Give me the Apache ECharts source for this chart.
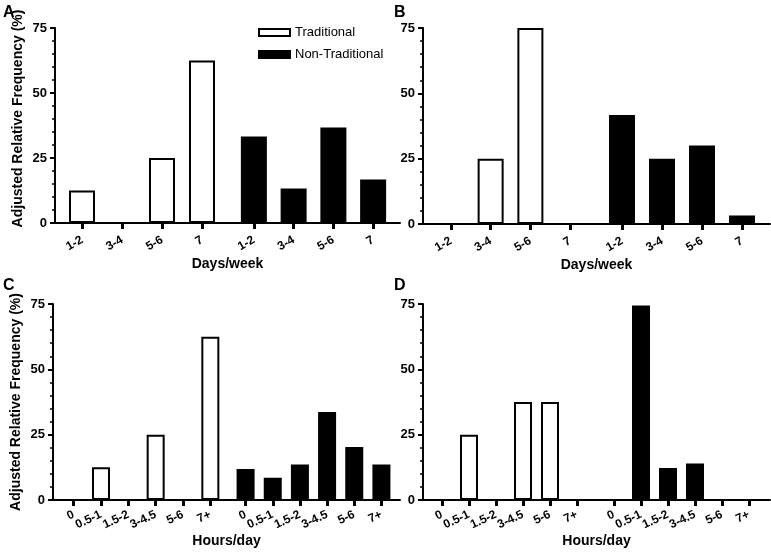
<!DOCTYPE html>
<html>
<head>
<meta charset="utf-8">
<script src="https://cdn.jsdelivr.net/npm/echarts@6/dist/echarts.min.js"></script>
<style>
html,body{margin:0;padding:0;background:#fff;}
#chart{width:771px;height:558px;}
</style>
</head>
<body>
<div id="chart"></div>
<script>
// ---- data ----
const daysCats = ['1-2', '3-4', '5-6', '7'];
const hoursCats = ['0', '0.5-1', '1.5-2', '3-4.5', '5-6', '7+'];
const yTicks = [0, 25, 50, 75];
const aTrad = [12.5, 0, 25, 62.5];
const aNon = [33.3, 13.3, 36.7, 16.7];
const bTrad = [0, 25, 75, null];
const bNon = [41.7, 25, 30, 3.3];
const cTrad = [0, 12.5, 0, 25, 0, 62.5];
const cNon = [11.9, 8.5, 13.6, 33.7, 20.3, 13.6];
const dTrad = [0, 25, 0, 37.5, 37.5, 0];
const dNon = [0, 74.4, 12.2, 14, 0, 0];
const yName = 'Adjusted Relative Frequency (%)';
const daysName = 'Days/week';
const hoursName = 'Hours/day';
const panelLetters = ['A', 'B', 'C', 'D'];

// ---- layout ----
const FONT = '"Liberation Sans", Arial, sans-serif';
const yMax = yTicks[yTicks.length - 1];
const yStep = yTicks[1] - yTicks[0];

const panels = [
  {frame: {left: 55, top: 28, width: 345, height: 195}, trad: {left: 62, width: 160}, non: {left: 234, width: 159},
   cats: daysCats, t: aTrad, n: aNon, xName: daysName, yName: yName, yPad: [0, 0, 0, 14], barW: 26, rot: 30, lm: 16},
  {frame: {left: 423, top: 28, width: 347, height: 196}, trad: {left: 431, width: 159}, non: {left: 602, width: 160},
   cats: daysCats, t: bTrad, n: bNon, xName: daysName, yName: '', yPad: 0, barW: 26, rot: 30, lm: 16},
  {frame: {left: 53, top: 304, width: 347, height: 196}, trad: {left: 60, width: 164}, non: {left: 232, width: 163},
   cats: hoursCats, t: cTrad, n: cNon, xName: hoursName, yName: yName, yPad: 0, barW: 18, rot: 25, lm: 14},
  {frame: {left: 423, top: 304, width: 347, height: 196}, trad: {left: 428.5, width: 162}, non: {left: 600.5, width: 162},
   cats: hoursCats, t: dTrad, n: dNon, xName: hoursName, yName: '', yPad: 0, barW: 18, rot: 25, lm: 14}
];

const grid = [], xAxis = [], yAxis = [], series = [];
panels.forEach((p) => {
  const fi = grid.length;
  grid.push({left: p.frame.left, top: p.frame.top, width: p.frame.width, height: p.frame.height});
  xAxis.push({
    gridIndex: fi, type: 'category', data: [''],
    axisLine: {show: true, lineStyle: {color: '#000', width: 2}},
    axisTick: {show: false}, axisLabel: {show: false}, splitLine: {show: false},
    name: p.xName, nameLocation: 'middle', nameGap: 34,
    nameTextStyle: {fontFamily: FONT, fontWeight: 'bold', fontSize: 14, color: '#000'}
  });
  yAxis.push({
    gridIndex: fi, type: 'value', min: 0, max: yMax, interval: yStep,
    axisLine: {show: true, lineStyle: {color: '#000', width: 2}},
    axisTick: {show: true, length: 5, lineStyle: {color: '#000', width: 2}},
    minorTick: {show: true, splitNumber: 5, length: 3, lineStyle: {color: '#000', width: 1.5}},
    axisLabel: {margin: 8, fontFamily: FONT, fontWeight: 'bold', fontSize: 13, color: '#000'},
    splitLine: {show: false},
    name: p.yName, nameLocation: 'middle', nameGap: 30,
    nameTextStyle: {fontFamily: FONT, fontWeight: 'bold', fontSize: 14, color: '#000', padding: p.yPad}
  });
  [['trad', p.t, 'Traditional', '#fff'], ['non', p.n, 'Non-Traditional', '#000']].forEach(([k, vals, nm, col]) => {
    const gi = grid.length;
    grid.push({left: p[k].left, top: p.frame.top, width: p[k].width, height: p.frame.height});
    xAxis.push({
      gridIndex: gi, type: 'category', data: p.cats,
      axisLine: {show: true, lineStyle: {color: '#000', width: 2}},
      axisTick: {show: true, alignWithLabel: true, length: 6, lineStyle: {color: '#000', width: 3}},
      axisLabel: {rotate: p.rot, margin: p.lm, interval: 0, fontFamily: FONT, fontWeight: 'bold', fontSize: 12, color: '#000'},
      splitLine: {show: false}
    });
    yAxis.push({gridIndex: gi, type: 'value', min: 0, max: yMax, show: false});
    series.push({
      type: 'bar', name: nm, xAxisIndex: gi, yAxisIndex: gi, data: vals, barWidth: p.barW,
      itemStyle: {color: col, borderColor: '#000', borderWidth: 2},
      emphasis: {disabled: true}, animation: false
    });
  });
});

const titlePos = [[3, 5], [394, 5], [3, 278], [394, 278]];
const title = panelLetters.map((t, i) => ({
  text: t, left: titlePos[i][0], top: titlePos[i][1], padding: 0,
  textStyle: {fontFamily: FONT, fontWeight: 'bold', fontSize: 16, color: '#000'}
}));

const chart = echarts.init(document.getElementById('chart'), null, {renderer: 'canvas'});
chart.setOption({
  animation: false,
  backgroundColor: '#fff',
  title: title,
  legend: {
    orient: 'vertical', left: 258, top: 26, padding: 0, itemWidth: 31, itemHeight: 7, itemGap: 9,
    icon: 'rect', selectedMode: false,
    textStyle: {fontFamily: FONT, fontSize: 13, color: '#000'},
    data: [
      {name: 'Traditional', itemStyle: {color: '#fff', borderColor: '#000', borderWidth: 2}},
      {name: 'Non-Traditional', itemStyle: {color: '#000', borderColor: '#000', borderWidth: 2}}
    ]
  },
  grid: grid, xAxis: xAxis, yAxis: yAxis, series: series
});
</script>
</body>
</html>
